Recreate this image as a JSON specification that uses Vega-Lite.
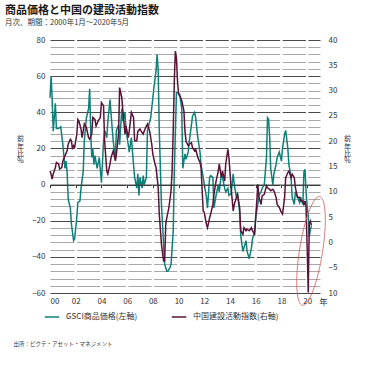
{
  "$schema": "https://vega.github.io/schema/vega-lite/v6.json",
  "autosize": "none",
  "width": 270,
  "height": 253,
  "padding": {"left": 50, "top": 40, "right": 70, "bottom": 72},
  "config": {
    "font": "Noto Sans CJK JP",
    "view": {"stroke": null},
    "axis": {"labelColor": "#333333", "labelFontSize": 8, "titleColor": "#333333"}
  },
  "title": {
    "text": "商品価格と中国の建設活動指数",
    "subtitle": "月次、期間：2000年1月～2020年5月",
    "anchor": "start",
    "frame": "group",
    "dx": -45,
    "offset": 10,
    "fontSize": 11,
    "fontWeight": "bold",
    "color": "#1a1a1a",
    "subtitleFontSize": 7.5,
    "subtitleColor": "#333333",
    "subtitlePadding": 3
  },
  "datasets": {
    "gsci": [
      {"date":"2000-01","v":48},{"date":"2000-02","v":60},{"date":"2000-03","v":48},{"date":"2000-04","v":29.5},{"date":"2000-06","v":45},{"date":"2000-07","v":31},{"date":"2000-09","v":31},{"date":"2000-11","v":32},
      {"date":"2001-01","v":22},{"date":"2001-03","v":9},{"date":"2001-04","v":13},{"date":"2001-05","v":7},{"date":"2001-06","v":-8},{"date":"2001-08","v":-13},{"date":"2001-09","v":-22},{"date":"2001-11","v":-31},{"date":"2001-12","v":-30},
      {"date":"2002-02","v":-18},{"date":"2002-03","v":-10},{"date":"2002-05","v":-9},{"date":"2002-06","v":-2},{"date":"2002-08","v":7},{"date":"2002-09","v":24},{"date":"2002-11","v":37},
      {"date":"2003-01","v":42},{"date":"2003-02","v":53},{"date":"2003-03","v":30},{"date":"2003-04","v":15},{"date":"2003-05","v":20},{"date":"2003-06","v":11},{"date":"2003-07","v":16},{"date":"2003-09","v":9},{"date":"2003-11","v":15},
      {"date":"2004-01","v":1},{"date":"2004-03","v":24},{"date":"2004-04","v":30},{"date":"2004-06","v":26},{"date":"2004-07","v":35},{"date":"2004-09","v":47},{"date":"2004-10","v":39},{"date":"2004-12","v":24},
      {"date":"2005-02","v":15},{"date":"2005-03","v":30},{"date":"2005-05","v":33},{"date":"2005-06","v":22},{"date":"2005-08","v":42},{"date":"2005-09","v":35},{"date":"2005-11","v":40},{"date":"2005-12","v":30},
      {"date":"2006-02","v":22},{"date":"2006-03","v":18},{"date":"2006-05","v":26},{"date":"2006-07","v":11},{"date":"2006-08","v":4},{"date":"2006-10","v":-2},{"date":"2006-11","v":6},{"date":"2006-12","v":-6},
      {"date":"2007-01","v":4},{"date":"2007-03","v":-2},{"date":"2007-04","v":5},{"date":"2007-05","v":0},{"date":"2007-07","v":4},{"date":"2007-08","v":30},{"date":"2007-11","v":37},
      {"date":"2008-01","v":48},{"date":"2008-02","v":54},{"date":"2008-04","v":63},{"date":"2008-05","v":72},{"date":"2008-06","v":63},{"date":"2008-07","v":30},{"date":"2008-09","v":-11},{"date":"2008-11","v":-33},{"date":"2008-12","v":-44},
      {"date":"2009-02","v":-48},{"date":"2009-03","v":-48},{"date":"2009-05","v":-46},{"date":"2009-06","v":-44},{"date":"2009-08","v":-26},{"date":"2009-09","v":7},{"date":"2009-11","v":51},{"date":"2009-12","v":51},
      {"date":"2010-02","v":50},{"date":"2010-04","v":42},{"date":"2010-05","v":9},{"date":"2010-07","v":17},{"date":"2010-08","v":14},{"date":"2010-10","v":18},{"date":"2010-11","v":24},
      {"date":"2011-01","v":33},{"date":"2011-02","v":38},{"date":"2011-04","v":40},{"date":"2011-05","v":37},{"date":"2011-07","v":26},{"date":"2011-09","v":18},{"date":"2011-10","v":11},{"date":"2011-12","v":4},
      {"date":"2012-01","v":0},{"date":"2012-03","v":-7},{"date":"2012-04","v":-13},{"date":"2012-06","v":4},{"date":"2012-07","v":5},{"date":"2012-09","v":4},{"date":"2012-10","v":-13},{"date":"2012-12","v":-6},
      {"date":"2013-02","v":0},{"date":"2013-03","v":-4},{"date":"2013-05","v":6},{"date":"2013-06","v":4},{"date":"2013-08","v":-2},{"date":"2013-09","v":-4},{"date":"2013-11","v":-2},{"date":"2013-12","v":-6},
      {"date":"2014-02","v":-5},{"date":"2014-04","v":6},{"date":"2014-05","v":0},{"date":"2014-07","v":-7},{"date":"2014-08","v":-5},{"date":"2014-10","v":-15},{"date":"2014-11","v":-28},
      {"date":"2015-01","v":-37},{"date":"2015-02","v":-35},{"date":"2015-04","v":-31},{"date":"2015-05","v":-37},{"date":"2015-07","v":-41},{"date":"2015-09","v":-35},{"date":"2015-10","v":-30},{"date":"2015-12","v":-26},
      {"date":"2016-01","v":-18},{"date":"2016-03","v":-11},{"date":"2016-04","v":-6},{"date":"2016-06","v":-4},{"date":"2016-07","v":-2},{"date":"2016-09","v":0},{"date":"2016-11","v":15},{"date":"2016-12","v":37},
      {"date":"2017-01","v":36},{"date":"2017-02","v":26},{"date":"2017-03","v":9},{"date":"2017-05","v":0},{"date":"2017-06","v":6},{"date":"2017-08","v":11},{"date":"2017-09","v":15},{"date":"2017-11","v":18},
      {"date":"2018-01","v":13},{"date":"2018-02","v":20},{"date":"2018-04","v":28},{"date":"2018-05","v":30},{"date":"2018-07","v":20},{"date":"2018-08","v":11},{"date":"2018-10","v":4},{"date":"2018-11","v":-7},
      {"date":"2019-01","v":-11},{"date":"2019-02","v":-4},{"date":"2019-04","v":-7},{"date":"2019-06","v":-10},{"date":"2019-07","v":-7},{"date":"2019-09","v":-11},{"date":"2019-10","v":7},{"date":"2019-11","v":8.5},{"date":"2019-12","v":-4},
      {"date":"2020-01","v":-12},{"date":"2020-02","v":-17},{"date":"2020-03","v":-29},{"date":"2020-04","v":-25},{"date":"2020-05","v":-23}
    ],
    "china": [
      {"date":"2000-01","v":14.1},{"date":"2000-02","v":13.5},{"date":"2000-03","v":12.5},{"date":"2000-04","v":13.5},{"date":"2000-06","v":14.8},{"date":"2000-07","v":15.8},{"date":"2000-09","v":15.5},{"date":"2000-10","v":14.5},{"date":"2000-12","v":14.8},
      {"date":"2001-01","v":16.1},{"date":"2001-03","v":17.1},{"date":"2001-05","v":18.1},{"date":"2001-06","v":19.4},{"date":"2001-08","v":20.4},{"date":"2001-09","v":20.1},{"date":"2001-10","v":18.4},{"date":"2001-11","v":19.1},{"date":"2001-12","v":18.8},
      {"date":"2002-02","v":21.4},{"date":"2002-03","v":24.3},{"date":"2002-04","v":24.0},{"date":"2002-06","v":22.4},{"date":"2002-07","v":20.7},{"date":"2002-08","v":22.0},{"date":"2002-09","v":23.4},{"date":"2002-11","v":22.7},
      {"date":"2003-01","v":20.7},{"date":"2003-02","v":20.4},{"date":"2003-04","v":21.4},{"date":"2003-05","v":24.7},{"date":"2003-07","v":24.3},{"date":"2003-08","v":23.0},{"date":"2003-10","v":24.0},{"date":"2003-12","v":24.7},
      {"date":"2004-01","v":27.6},{"date":"2004-03","v":27.0},{"date":"2004-04","v":20.0},{"date":"2004-06","v":14.1},{"date":"2004-07","v":13.5},{"date":"2004-09","v":15.5},{"date":"2004-10","v":16.8},{"date":"2004-12","v":18.1},
      {"date":"2005-02","v":16.1},{"date":"2005-03","v":17.4},{"date":"2005-05","v":21.4},{"date":"2005-06","v":30.6},{"date":"2005-08","v":28.6},{"date":"2005-09","v":26.0},{"date":"2005-11","v":21.4},{"date":"2005-12","v":23.0},
      {"date":"2006-02","v":20.7},{"date":"2006-03","v":22.0},{"date":"2006-05","v":25.7},{"date":"2006-07","v":24.7},{"date":"2006-08","v":20.1},{"date":"2006-10","v":20.1},{"date":"2006-11","v":22.0},
      {"date":"2007-01","v":22.4},{"date":"2007-02","v":22.0},{"date":"2007-04","v":21.4},{"date":"2007-05","v":22.0},{"date":"2007-07","v":23.0},{"date":"2007-08","v":23.4},{"date":"2007-10","v":22.0},{"date":"2007-12","v":19.4},
      {"date":"2008-01","v":17.4},{"date":"2008-03","v":15.5},{"date":"2008-04","v":14.8},{"date":"2008-06","v":10.8},{"date":"2008-07","v":5.6},{"date":"2008-09","v":-0.4},{"date":"2008-11","v":-3.7},{"date":"2008-12","v":-3.7},
      {"date":"2009-01","v":3.6},{"date":"2009-02","v":4.9},{"date":"2009-04","v":6.9},{"date":"2009-06","v":10.2},{"date":"2009-07","v":14.1},{"date":"2009-08","v":22.0},{"date":"2009-09","v":31.9},{"date":"2009-10","v":37.8},{"date":"2009-11","v":36.5},{"date":"2009-12","v":31.9},
      {"date":"2010-01","v":29.3},{"date":"2010-03","v":28.6},{"date":"2010-04","v":28.0},{"date":"2010-06","v":26.0},{"date":"2010-07","v":22.0},{"date":"2010-08","v":20.0},{"date":"2010-10","v":19.1},{"date":"2010-11","v":19.4},
      {"date":"2011-01","v":19.7},{"date":"2011-02","v":18.7},{"date":"2011-04","v":18.1},{"date":"2011-05","v":18.4},{"date":"2011-07","v":16.8},{"date":"2011-09","v":15.8},{"date":"2011-10","v":14.8},{"date":"2011-12","v":6.2},
      {"date":"2012-01","v":5.9},{"date":"2012-03","v":3.6},{"date":"2012-04","v":2.9},{"date":"2012-06","v":4.9},{"date":"2012-07","v":5.6},{"date":"2012-09","v":7.5},{"date":"2012-10","v":9.5},{"date":"2012-12","v":12.1},
      {"date":"2013-02","v":14.1},{"date":"2013-03","v":15.5},{"date":"2013-05","v":12.8},{"date":"2013-06","v":14.1},{"date":"2013-08","v":12.1},{"date":"2013-09","v":15.5},{"date":"2013-11","v":18.4},{"date":"2013-12","v":16.8},
      {"date":"2014-02","v":10.8},{"date":"2014-04","v":6.2},{"date":"2014-05","v":7.5},{"date":"2014-07","v":8.9},{"date":"2014-08","v":9.5},{"date":"2014-10","v":6.9},{"date":"2014-11","v":2.3},
      {"date":"2015-01","v":1.6},{"date":"2015-02","v":2.9},{"date":"2015-04","v":2.3},{"date":"2015-05","v":2.6},{"date":"2015-07","v":2.3},{"date":"2015-09","v":2.9},{"date":"2015-10","v":2.3},{"date":"2015-12","v":1.6},
      {"date":"2016-01","v":4.9},{"date":"2016-03","v":11.5},{"date":"2016-04","v":8.9},{"date":"2016-06","v":7.5},{"date":"2016-07","v":9.2},{"date":"2016-09","v":9.5},{"date":"2016-11","v":11.2},{"date":"2016-12","v":10.8},
      {"date":"2017-02","v":10.5},{"date":"2017-03","v":10.2},{"date":"2017-05","v":10.5},{"date":"2017-06","v":10.2},{"date":"2017-08","v":8.9},{"date":"2017-09","v":7.5},{"date":"2017-11","v":6.9},
      {"date":"2018-01","v":5.9},{"date":"2018-02","v":5.6},{"date":"2018-04","v":8.9},{"date":"2018-05","v":12.8},{"date":"2018-07","v":13.8},{"date":"2018-08","v":14.1},{"date":"2018-10","v":12.8},{"date":"2018-11","v":13.5},
      {"date":"2019-01","v":12.8},{"date":"2019-02","v":10.8},{"date":"2019-04","v":8.9},{"date":"2019-06","v":8.9},{"date":"2019-07","v":8.2},{"date":"2019-09","v":8.2},{"date":"2019-10","v":7.5},{"date":"2019-11","v":8.2},{"date":"2019-12","v":7.0},
      {"date":"2020-01","v":-1.0},{"date":"2020-02","v":-9.9},{"date":"2020-03","v":3.6},{"date":"2020-04","v":4.2},{"date":"2020-05","v":3.3}
    ],
    "gaps": [
      {"date":"2002-01"},{"date":"2004-01"},{"date":"2006-01"},{"date":"2008-01"},{"date":"2010-01"},{"date":"2012-01"},{"date":"2014-01"},{"date":"2016-01"},{"date":"2018-01"},{"date":"2020-01"}
    ]
  },
  "layer": [
    {
      "data": {"name": "gaps"},
      "mark": {"type": "rule", "color": "white", "strokeWidth": 2.5},
      "encoding": {
        "x": {
          "field": "date", "type": "temporal",
          "scale": {"type": "utc", "domain": [{"year": 2000, "month": 1, "date": 1, "utc": true}, {"year": 2020, "month": 12, "date": 31, "utc": true}]},
          "axis": {
            "orient": "bottom",
            "values": [{"year":2000,"utc":true},{"year":2002,"utc":true},{"year":2004,"utc":true},{"year":2006,"utc":true},{"year":2008,"utc":true},{"year":2010,"utc":true},{"year":2012,"utc":true},{"year":2014,"utc":true},{"year":2016,"utc":true},{"year":2018,"utc":true},{"year":2020,"utc":true}],
            "format": "%y",
            "grid": false, "ticks": false, "domain": false,
            "labelPadding": 4, "labelFontSize": 8,
            "title": "出所：ピクテ・アセット・マネジメント",
            "titleX": -37, "titleY": 50, "titleAlign": "left", "titleAnchor": null, "titleBaseline": "middle",
            "titleFontSize": 5.5, "titleFontWeight": "normal"
          }
        }
      }
    },
    {
      "data": {"name": "gsci"},
      "mark": {"type": "line", "strokeWidth": 1.5},
      "encoding": {
        "x": {
          "field": "date", "type": "temporal",
          "scale": {"type": "utc", "domain": [{"year": 2000, "month": 1, "date": 1, "utc": true}, {"year": 2020, "month": 12, "date": 31, "utc": true}]},
          "axis": {
            "orient": "bottom", "offset": -108.43, "zindex": 1,
            "values": [{"year":2000,"utc":true},{"year":2002,"utc":true},{"year":2004,"utc":true},{"year":2006,"utc":true},{"year":2008,"utc":true},{"year":2010,"utc":true},{"year":2012,"utc":true},{"year":2014,"utc":true},{"year":2016,"utc":true},{"year":2018,"utc":true},{"year":2020,"utc":true}],
            "labels": false, "grid": false,
            "ticks": true, "tickSize": 3, "tickColor": "#333333", "domain": true, "domainColor": "#333333", "domainWidth": 1,
            "title": "年", "titleX": 273, "titleY": 117, "titleAlign": "center", "titleAnchor": null, "titleBaseline": "middle",
            "titleFontSize": 8.5, "titleFontWeight": "normal"
          }
        },
        "y": {
          "field": "v", "type": "quantitative",
          "scale": {"domain": [-60, 80], "nice": false, "zero": false},
          "axis": {
            "orient": "left",
            "values": [-60,-56,-52,-48,-44,-40,-36,-32,-28,-24,-20,-16,-12,-8,-4,0,4,8,12,16,20,24,28,32,36,40,44,48,52,56,60,64,68,72,76,80],
            "labelExpr": "datum.value % 20 === 0 ? datum.label : ''",
            "grid": true,
            "gridColor": {"condition": {"test": "datum.value % 20 === 0", "value": "#4a4a4a"}, "value": "#a8a8a8"},
            "gridWidth": 1,
            "ticks": false, "domain": false, "labelPadding": 5,
            "title": ["前", "年", "比", "%"],
            "titleAngle": 0.01, "titleX": -30, "titleY": 95, "titleAlign": "center", "titleBaseline": "top",
            "titleFontSize": 7, "titleLineHeight": 7.2, "titleFontWeight": "normal", "titleColor": "#1f2a44"
          }
        },
        "color": {
          "datum": "GSCI商品価格(左軸)",
          "scale": {"domain": ["GSCI商品価格(左軸)", "中国建設活動指数(右軸)"], "range": ["#0f8078", "#5a1238"]},
          "legend": {
            "orient": "none", "legendX": -6, "legendY": 269, "direction": "horizontal", "title": null,
            "symbolType": "stroke", "symbolSize": 210, "symbolStrokeWidth": 1.5,
            "labelFontSize": 8, "labelColor": "#333333", "columnPadding": 30, "labelOffset": 6
          }
        }
      }
    },
    {
      "data": {"name": "china"},
      "mark": {"type": "line", "strokeWidth": 1.5},
      "encoding": {
        "x": {
          "field": "date", "type": "temporal",
          "scale": {"type": "utc", "domain": [{"year": 2000, "month": 1, "date": 1, "utc": true}, {"year": 2020, "month": 12, "date": 31, "utc": true}]},
          "axis": null
        },
        "y": {
          "field": "v", "type": "quantitative",
          "scale": {"domain": [-10, 40], "nice": false, "zero": false},
          "axis": {
            "orient": "right",
            "values": [-10,-5,0,5,10,15,20,25,30,35,40],
            "labelExpr": "datum.value === -10 ? '10' : datum.label",
            "grid": false, "ticks": false, "domain": false, "labelPadding": 8,
            "title": ["前", "年", "比", "%"],
            "titleAngle": 0.01, "titleX": 27, "titleY": 95, "titleAlign": "center", "titleBaseline": "top",
            "titleFontSize": 7, "titleLineHeight": 7.2, "titleFontWeight": "normal", "titleColor": "#1f2a44"
          }
        },
        "color": {"datum": "中国建設活動指数(右軸)"}
      }
    },
    {
      "data": {"values": [{}]},
      "mark": {
        "type": "point",
        "shape": "M0.156,-0.988A0.21,1,9,1,0,-0.156,0.988A0.21,1,9,1,0,0.156,-0.988Z",
        "size": 12100, "filled": false, "stroke": "#d05a5a", "strokeWidth": 0.8, "opacity": 1
      },
      "encoding": {
        "x": {
          "datum": {"year": 2020, "month": 4, "date": 20, "utc": true}, "type": "temporal",
          "scale": {"type": "utc", "domain": [{"year": 2000, "month": 1, "date": 1, "utc": true}, {"year": 2020, "month": 12, "date": 31, "utc": true}]},
          "axis": null
        },
        "y": {
          "datum": -36.7, "type": "quantitative",
          "scale": {"domain": [-60, 80], "nice": false, "zero": false},
          "axis": null
        }
      }
    }
  ],
  "resolve": {
    "scale": {"x": "independent", "y": "independent"},
    "axis": {"x": "independent", "y": "independent"}
  }
}
